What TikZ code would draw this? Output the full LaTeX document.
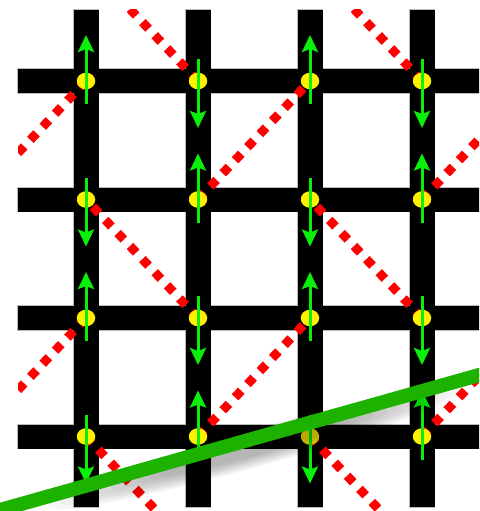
\documentclass[tikz,border=0pt]{standalone}
\usetikzlibrary{arrows.meta,shapes.geometric}
\definecolor{redl}{RGB}{255,0,0}
\definecolor{garrowc}{RGB}{10,240,10}
\definecolor{glinec}{RGB}{30,178,0}
\definecolor{dotc}{RGB}{255,240,0}
\tikzset{
  barout/.style={draw=gray!55, line width=1.6pt},
  barfill/.style={fill=black},
  redline/.style={draw=redl, line width=9pt, dash pattern=on 9pt off 9pt},
  dotnode/.style={ellipse, fill=dotc, draw=none, minimum width=18.5pt, minimum height=16.5pt, inner sep=0pt},
  garrow/.style={draw=garrowc, line width=3pt, -{Stealth[width=16pt,length=17pt,inset=3pt]}},
  bigline/.style={draw=glinec, line width=14pt}
}
\begin{document}
\begin{tikzpicture}[x=1pt,y=-1pt]
\useasboundingbox (0,0) rectangle (479,511);
\clip (0,0) rectangle (479,511);
\fill[white] (0,0) rectangle (479,511);
% lattice points
\foreach \i in {-1,...,4}{
  \foreach \j in {-1,...,4}{
    \coordinate (P\i-\j) at ({86+112*\i},{81+118.5*\j});
  }
}
% bars: outline then fill
\foreach \i in {0,...,3}{
  \path[barout] ({86+112*\i-12.5},10) rectangle ++(25,497);
}
\foreach \j in {0,...,3}{
  \path[barout] (18,{81+118.5*\j-12}) rectangle (490,{81+118.5*\j+12});
}
\foreach \i in {0,...,3}{
  \path[barfill] ({86+112*\i-12.5},10) rectangle ++(25,497);
}
\foreach \j in {0,...,3}{
  \path[barfill] (18,{81+118.5*\j-12}) rectangle (490,{81+118.5*\j+12});
}
% red dotted diagonals
\begin{scope}
\clip (18,10) rectangle (490,520);
\draw[redline] (P0-0) -- (P-1-1);
\draw[redline] (P1-0) -- (P0--1);
\draw[redline] (P3-0) -- (P2--1);
\draw[redline] (P1-1) -- (P2-0);
\draw[redline] (P3-1) -- (P4-0);
\draw[redline] (P1-2) -- (P0-1);
\draw[redline] (P3-2) -- (P2-1);
\draw[redline] (P0-2) -- (P-1-3);
\draw[redline] (P1-3) -- (P2-2);
\draw[redline] (P3-3) -- (P4-2);
\draw[redline] (P0-3) -- (P1-4);
\draw[redline] (P2-3) -- (P3-4);
\end{scope}
% yellow dots
\foreach \i in {0,...,3}{
  \foreach \j in {0,...,3}{
    \node[dotnode] (D\i-\j) at (P\i-\j) {};
  }
}
% green arrows
\foreach \i in {0,...,3}{
  \foreach \j in {0,...,3}{
    \ifodd\numexpr\i+\j\relax
      \draw[garrow] ([yshift=22pt]D\i-\j.center) -- ([yshift=-47pt]D\i-\j.center);
    \else
      \draw[garrow] ([yshift=-23pt]D\i-\j.center) -- ([yshift=46pt]D\i-\j.center);
    \fi
  }
}
% shadow of the green line
\begin{scope}[shift={(255,448)}, rotate=15.74]
\foreach \k in {0,...,9}{
  \fill[black, opacity=0.03] (0,0) ellipse ({215-13*\k} and {19-1.3*\k});
}
\end{scope}
% green line
\coordinate (GL) at (-20,515.6);
\coordinate (GR) at (500,369.1);
\draw[bigline] (GL) -- (GR);
\end{tikzpicture}
\end{document}
